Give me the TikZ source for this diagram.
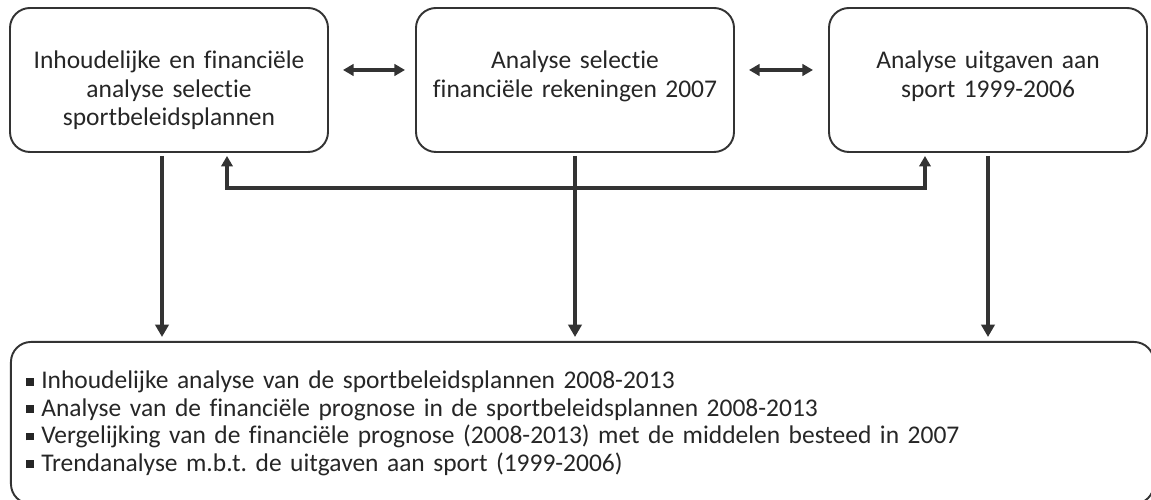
\documentclass[tikz,border=0pt]{standalone}
\usepackage{fontspec}
\setmainfont{Carlito}[Ligatures=NoCommon]
\usetikzlibrary{arrows.meta}
\definecolor{ink}{HTML}{333333}
\definecolor{txt}{HTML}{262626}
\newcommand{\blt}{\rule[0.13em]{0.3em}{0.3em}\hspace{0.3em}}
\frenchspacing
\tikzset{
  stage/.style={draw=ink, line width=1.1pt, rounded corners=0.4cm, text=txt, inner sep=0pt,
      text width=6.36cm, align=center, text height=1.22cm, text depth=1.66cm,
      font=\fontsize{14.5}{16.2}\selectfont},
  result/.style={draw=ink, line width=1.1pt, rounded corners=0.4cm, text=txt, inner ysep=0pt,
      inner xsep=0.3cm, text width=22.26cm, align=left, text height=0.94cm, text depth=2.3cm,
      font=\fontsize{14.5}{15.6}\selectfont},
  flow/.style={draw=ink, line width=1.9pt, -{Triangle[length=7pt, width=7.5pt]}},
  link/.style={draw=ink, line width=1.9pt, {Triangle[length=6pt, width=6.5pt]}-{Triangle[length=6pt, width=6.5pt]}},
}

\begin{document}
\begin{tikzpicture}
  \useasboundingbox (0,0) rectangle (23.02,10);
  % the three analyses
  \node[stage] (plan) at (3.38,8.4) {Inhoudelijke en financiële\\analyse selectie\\sportbeleidsplannen};
  \node[stage] (reken) at (11.5,8.4) {Analyse selectie\\financiële rekeningen 2007};
  \node[stage] (uitg) at (19.76,8.4) {Analyse uitgaven aan\\sport 1999-2006};
  % results
  \node[result, anchor=north west] (res) at (0.2,3.18) {%
    \blt Inhoudelijke analyse van de sportbeleidsplannen 2008-2013\\
    \blt Analyse van de financiële prognose in de sportbeleidsplannen 2008-2013\\
    \blt Vergelijking van de financiële prognose (2008-2013) met de middelen besteed in 2007\\
    \blt Trendanalyse m.b.t. de uitgaven aan sport (1999-2006)};
  % links between the analyses
  \draw[link, shorten <=0.28cm, shorten >=0.2cm] ([yshift=0.2cm]plan.east) -- ([yshift=0.2cm]reken.west);
  \draw[link, shorten <=0.28cm, shorten >=0.3cm] ([yshift=0.2cm]reken.east) -- ([yshift=0.2cm]uitg.west);
  \draw[link, shorten <=0.06cm, shorten >=0.06cm] ([xshift=1.16cm]plan.south) -- ++(0,-0.7) -| ([xshift=-1.26cm]uitg.south);
  % down to the results
  \draw[flow, shorten <=0.06cm, shorten >=0.08cm] ([xshift=-0.14cm]plan.south) -- ([xshift=-0.14cm]plan.south |- res.north);
  \draw[flow, shorten <=0.06cm, shorten >=0.08cm] (reken.south) -- (reken.south |- res.north);
  \draw[flow, shorten <=0.06cm, shorten >=0.08cm] (uitg.south) -- (uitg.south |- res.north);
\end{tikzpicture}
\end{document}
